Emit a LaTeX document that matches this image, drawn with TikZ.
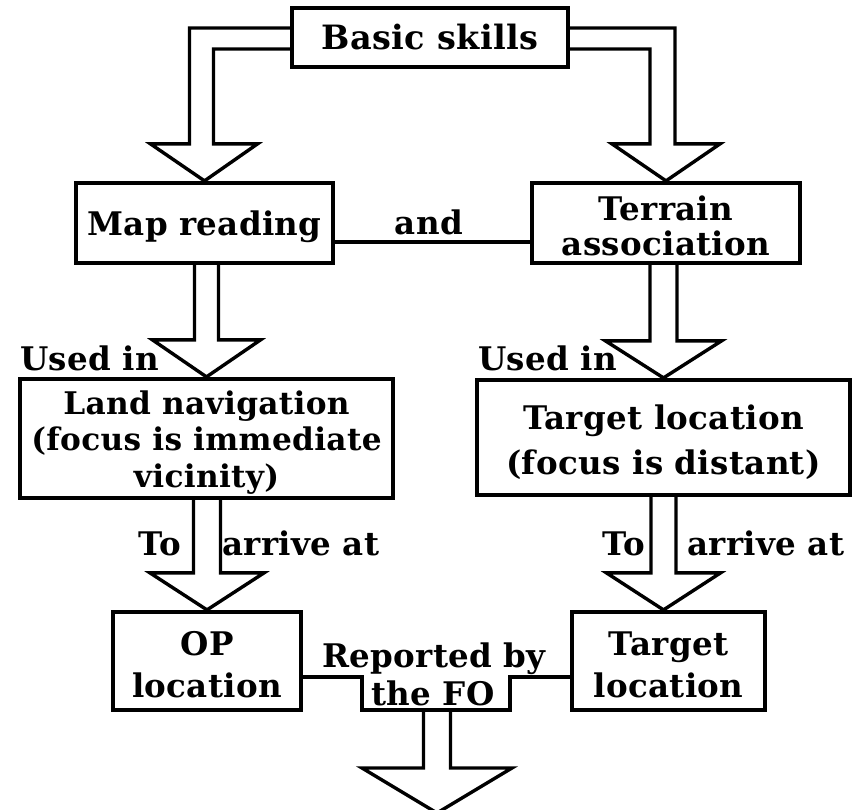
\documentclass[tikz,border=0pt]{standalone}
\usepackage{fontspec}
\setmainfont{DejaVu Serif}
\newfontfamily\labfont{DejaVu Serif}[LetterSpace=1]
\usetikzlibrary{calc}
\newcommand\varrow[4]{%
  \draw[blk] ($(#1)+(-#3,0)$) -- ($(#2)+(-#3,-37)$) -- ($(#2)+(-#4,-37)$) -- (#2)
    -- ($(#2)+(#4,-37)$) -- ($(#2)+(#3,-37)$) -- ($(#1)+(#3,0)$);}
\newcommand\fs[2]{\labfont\bfseries\fontsize{#1}{#2}\selectfont}
\begin{document}
\begin{tikzpicture}[x=1pt,y=-1pt,
  boxnode/.style={draw, line width=4.2pt, inner sep=0pt},
  boxtext/.style={inner sep=0pt, align=center, font=\fs{32.5}{36}},
  lbl/.style={inner sep=0pt, font=\fs{32.5}{36}},
  blk/.style={draw, line width=3.4pt, line join=miter},
  conn/.style={draw, line width=3.4pt}]
\useasboundingbox[fill=white] (0,0) rectangle (864,810);
\begin{scope}
\clip (0,0) rectangle (864,810);
% boxes
\node[boxnode, minimum width=276pt, minimum height=59pt] (basic) at (430,37.5) {};
\node[boxtext, font=\fs{33.5}{36}] (basictext) at (basic.center) {Basic skills};
\node[boxnode, minimum width=257pt, minimum height=80pt] (map) at (204.5,223) {};
\node[boxtext] (maptext) at ($(map.center)+(0,4)$) {Map reading};
\node[boxnode, minimum width=268pt, minimum height=80pt] (terrain) at (666,223) {};
\node[boxtext] (terraintext) at ($(terrain.center)+(0,3)$) {Terrain\\[-1pt]association};
\node[boxnode, minimum width=373pt, minimum height=119pt] (land) at (206.5,438.5) {};
\node[boxtext, font=\fs{31.2}{36.5}] (landtext) at ($(land.center)+(0,4)$) {Land navigation\\(focus is immediate\\vicinity)};
\node[boxnode, minimum width=373pt, minimum height=115pt] (target) at (663.5,437.5) {};
\node[boxtext] (targettext) at ($(target.center)+(0,5)$) {Target location\\[9pt](focus is distant)};
\node[boxnode, minimum width=188pt, minimum height=98pt] (op) at (207,661) {};
\node[boxtext] (optext) at ($(op.center)+(0,4)$) {OP\\[6pt]location};
\node[boxnode, minimum width=193pt, minimum height=98pt] (tloc) at (668.5,661) {};
\node[boxtext] (tloctext) at ($(tloc.center)+(0,4)$) {Target\\[6pt]location};
% labels
\node[lbl, anchor=base] (and) at (429,235) {and};
\node[lbl, anchor=base west] (used1) at (20,370) {Used in};
\node[lbl, anchor=base west] (used2) at (478,370) {Used in};
\node[lbl, anchor=base west] (to1) at (138,555) {To};
\node[lbl, anchor=base west] (arr1) at (222,555) {arrive at};
\node[lbl, anchor=base west] (to2) at (602,555) {To};
\node[lbl, anchor=base west] (arr2) at (687,555) {arrive at};
\node[lbl, anchor=base] (rep) at (434,667) {Reported by};
\node[lbl, anchor=base] (fo) at (433,705) {the FO};
% bent arrows from Basic skills
\coordinate (t1) at (map.north);
\draw[blk] ($(basic.west)+(0,-9.5)$) -| ($(t1)+(-15,-37)$) -- ($(t1)+(-54,-37)$) -- (t1)
  -- ($(t1)+(53,-37)$) -- ($(t1)+(9,-37)$) |- ($(basic.west)+(0,11.5)$);
\coordinate (t2) at (terrain.north);
\draw[blk] ($(basic.east)+(0,-9.5)$) -| ($(t2)+(9,-37)$) -- ($(t2)+(54,-37)$) -- (t2)
  -- ($(t2)+(-54,-37)$) -- ($(t2)+(-16,-37)$) |- ($(basic.east)+(0,11.5)$);
% and-connector
\draw[conn] ($(map.east)+(0,19)$) -- ($(terrain.west)+(0,19)$);
% straight block arrows
\coordinate (s3) at (land.north |- map.south);
\coordinate (t3) at (land.north);
\varrow{s3}{t3}{12}{54}
\coordinate (s4) at (target.north |- terrain.south);
\coordinate (t4) at (target.north);
\varrow{s4}{t4}{13.5}{58}
\coordinate (s5) at (op.north |- land.south);
\coordinate (t5) at (op.north);
\varrow{s5}{t5}{13.5}{57}
\coordinate (t6) at ($(tloc.north)+(-5,0)$);
\coordinate (s6) at (t6 |- target.south);
\varrow{s6}{t6}{12.5}{57}
% reported-by connector with notch
\coordinate (n1) at (362,710);
\coordinate (n2) at (510,710);
\draw[conn] ($(op.east)+(0,16)$) -| (n1) -- (n2) |- ($(tloc.west)+(0,16)$);
% bottom arrow
\coordinate (s7) at (437,710);
\coordinate (t7) at (437,813);
\draw[blk] ($(s7)+(-13.5,0)$) -- ($(t7)+(-13.5,-45)$) -- ($(t7)+(-75,-45)$) -- (t7)
  -- ($(t7)+(75,-45)$) -- ($(t7)+(13.5,-45)$) -- ($(s7)+(13.5,0)$);
\end{scope}
\end{tikzpicture}
\end{document}
